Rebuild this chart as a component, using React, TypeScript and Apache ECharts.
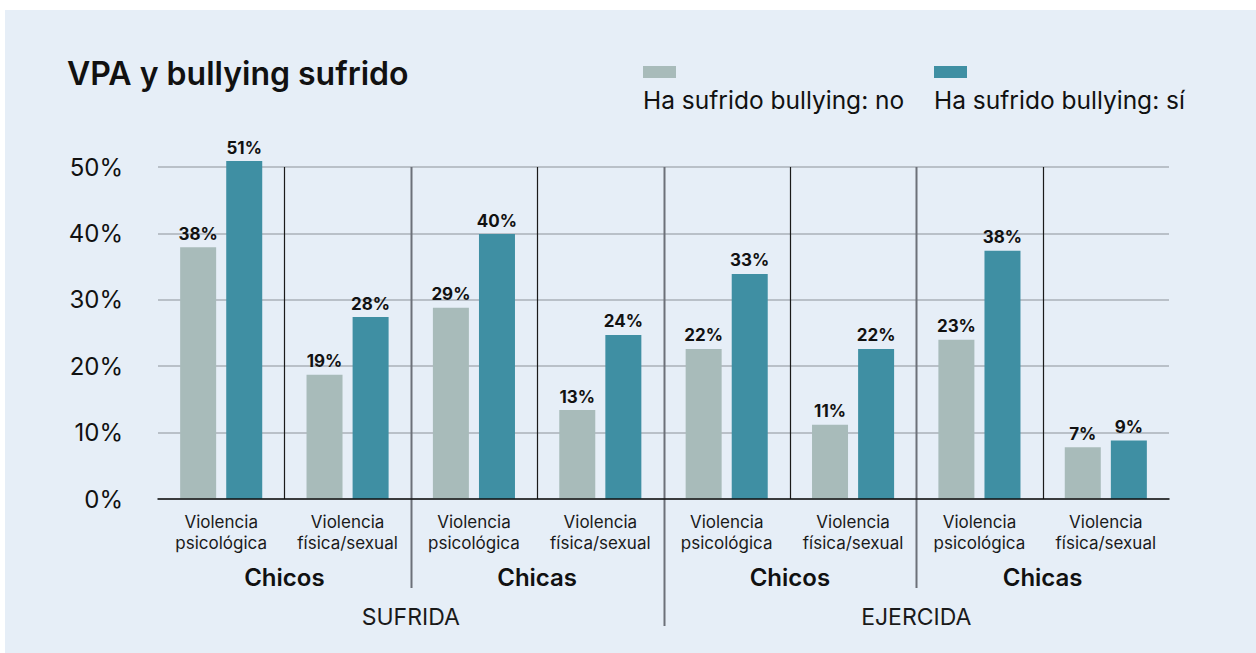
import React, { useEffect, useRef } from 'react';
import * as echarts from 'echarts';

const titleText = 'VPA y bullying sufrido';
const categories = [
  'Violencia\npsicológica',
  'Violencia\nfísica/sexual',
  'Violencia\npsicológica',
  'Violencia\nfísica/sexual',
  'Violencia\npsicológica',
  'Violencia\nfísica/sexual',
  'Violencia\npsicológica',
  'Violencia\nfísica/sexual',
];
const genderGroups = ['Chicos', 'Chicas', 'Chicos', 'Chicas'];
const typeGroups = ['SUFRIDA', 'EJERCIDA'];
const seriesNames = ['Ha sufrido bullying: no', 'Ha sufrido bullying: sí'];
const valuesNo = [37.9, 18.7, 28.8, 13.4, 22.6, 11.2, 24.0, 7.8];
const valuesYes = [50.9, 27.4, 39.9, 24.7, 33.9, 22.6, 37.4, 8.8];
const labelsNo = ['38%', '19%', '29%', '13%', '22%', '11%', '23%', '7%'];
const labelsYes = ['51%', '28%', '40%', '24%', '33%', '22%', '38%', '9%'];
const yMin = 0;
const yMax = 50;
const yInterval = 10;

const colorNo = '#a8bbba';
const colorYes = '#3f8fa3';
const FONT = 'Inter, "Noto Sans", sans-serif';

export default function App() {
  const ref = useRef<HTMLDivElement>(null);
  useEffect(() => {
    if (!ref.current) return;
    const chart = echarts.init(ref.current, null, { renderer: 'svg' });
    const labelStyle = {
      show: true,
      position: 'top' as const,
      distance: 5,
      fontFamily: FONT,
      fontSize: 17,
      fontWeight: 700,
      color: '#111',
    };
    chart.setOption({
      animation: false,
      backgroundColor: 'transparent',
      title: {
        text: titleText,
        left: 67,
        top: 57,
        padding: 0,
        textStyle: { fontFamily: FONT, fontSize: 32, fontWeight: 600, color: '#111' },
      },
      grid: { left: 158, right: 87, top: 167, bottom: 154, containLabel: false },
      xAxis: [
        {
          type: 'category',
          data: categories,
          axisLine: { show: true, lineStyle: { color: '#111', width: 1.5 } },
          axisTick: { show: false },
          axisLabel: {
            interval: 0,
            margin: 12,
            fontFamily: FONT,
            fontSize: 17,
            lineHeight: 21,
            color: '#1a1a1a',
          },
          z: 5,
        },
        {
          type: 'category',
          data: genderGroups,
          position: 'bottom',
          axisLine: { show: false },
          axisTick: { show: false },
          axisLabel: {
            interval: 0,
            margin: 66,
            fontFamily: FONT,
            fontSize: 24,
            fontWeight: 600,
            color: '#111',
          },
        },
        {
          type: 'category',
          data: typeGroups,
          position: 'bottom',
          axisLine: { show: false },
          axisTick: { show: false },
          axisLabel: {
            interval: 0,
            margin: 106,
            fontFamily: FONT,
            fontSize: 23,
            color: '#1a1a1a',
          },
        },
      ],
      yAxis: {
        type: 'value',
        min: yMin,
        max: yMax,
        interval: yInterval,
        axisLine: { show: false },
        axisTick: { show: false },
        axisLabel: {
          formatter: '{value}%',
          margin: 35,
          fontFamily: FONT,
          fontSize: 24,
          color: '#111',
        },
        splitLine: { lineStyle: { color: '#aab1b9', width: 1.5 } },
      },
      series: [
        {
          name: seriesNames[0],
          type: 'bar',
          data: valuesNo,
          barWidth: 36,
          barGap: '28%',
          clip: false,
          itemStyle: { color: colorNo },
          label: { ...labelStyle, formatter: (p: any) => labelsNo[p.dataIndex] },
        },
        {
          name: seriesNames[1],
          type: 'bar',
          data: valuesYes,
          barWidth: 36,
          barGap: '28%',
          clip: false,
          itemStyle: { color: colorYes },
          label: { ...labelStyle, formatter: (p: any) => labelsYes[p.dataIndex] },
        },
      ],
    });

    // separators computed from the axis scales
    const centers = categories.map((_, i) => chart.convertToPixel({ xAxisIndex: 0 }, i) as number);
    const yTop = chart.convertToPixel({ yAxisIndex: 0 }, yMax) as number;
    const yBottom = chart.convertToPixel({ yAxisIndex: 0 }, yMin) as number;
    const lines: any[] = [];
    for (let i = 0; i < centers.length - 1; i++) {
      const x = Math.round((centers[i] + centers[i + 1]) / 2) + 0.5;
      let y2 = yBottom;
      let stroke = '#1a1a1a';
      let w = 1.2;
      if (i === 1 || i === 5) {
        y2 = 588;
        stroke = '#6c7079';
        w = 2;
      } else if (i === 3) {
        y2 = 626;
        stroke = '#6c7079';
        w = 2;
      }
      lines.push({
        type: 'line',
        shape: { x1: x, y1: yTop, x2: x, y2 },
        style: { stroke, lineWidth: w },
        z: 4,
        silent: true,
      });
    }

    const legendItems = seriesNames.map((name, i) => {
      const lx = i === 0 ? 643 : 934;
      return {
        type: 'group',
        children: [
          { type: 'rect', shape: { x: lx, y: 66, width: 33, height: 12 }, style: { fill: i === 0 ? colorNo : colorYes } },
          {
            type: 'text',
            x: lx,
            y: 87,
            style: { text: name, fill: '#111', fontFamily: FONT, fontSize: 24.5, verticalAlign: 'top' },
          },
        ],
      };
    });

    chart.setOption({
      graphic: [
        {
          type: 'rect',
          shape: { x: 5, y: 10, width: 1251, height: 643 },
          style: { fill: '#e6eef7' },
          z: -10,
          silent: true,
        },
        ...lines,
        ...legendItems,
      ],
    });

    return () => chart.dispose();
  }, []);
  return (
    <div style={{ position: 'absolute', left: 0, top: 0, width: 1256, height: 653, background: '#fff' }}>
      <div ref={ref} style={{ width: 1256, height: 653 }} />
    </div>
  );
}
